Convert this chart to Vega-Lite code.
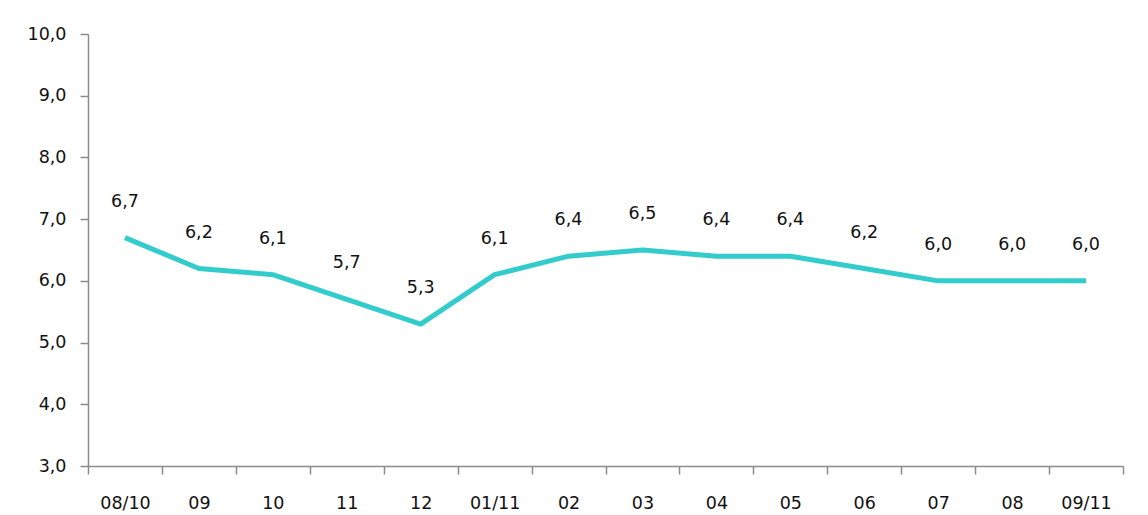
{
  "$schema": "https://vega.github.io/schema/vega-lite/v6.json",
  "width": 1035,
  "height": 432,
  "autosize": {"type": "none"},
  "padding": {"left": 88, "top": 34, "right": 25, "bottom": 49},
  "background": "white",
  "config": {
    "view": {"stroke": null},
    "font": "DejaVu Sans",
    "locale": {"number": {"decimal": ",", "thousands": ".", "grouping": [3], "currency": ["", " €"]}}
  },
  "data": {
    "values": [
      {"month": "08/10", "value": 6.7},
      {"month": "09", "value": 6.2},
      {"month": "10", "value": 6.1},
      {"month": "11", "value": 5.7},
      {"month": "12", "value": 5.3},
      {"month": "01/11", "value": 6.1},
      {"month": "02", "value": 6.4},
      {"month": "03", "value": 6.5},
      {"month": "04", "value": 6.4},
      {"month": "05", "value": 6.4},
      {"month": "06", "value": 6.2},
      {"month": "07", "value": 6.0},
      {"month": "08", "value": 6.0},
      {"month": "09/11", "value": 6.0}
    ]
  },
  "encoding": {
    "x": {
      "field": "month", "type": "ordinal", "sort": null,
      "scale": {"type": "band", "paddingInner": 0, "paddingOuter": 0},
      "axis": {
        "title": null, "labelAngle": 0, "tickBand": "extent",
        "domainColor": "#8c8c8c", "domainWidth": 1.5,
        "tickColor": "#8c8c8c", "tickWidth": 1.5, "tickSize": 8,
        "labelFont": "DejaVu Sans", "labelFontSize": 17.5, "labelColor": "#111111",
        "labelPadding": 20, "labelBaseline": "top", "grid": false
      }
    },
    "y": {
      "field": "value", "type": "quantitative",
      "scale": {"domain": [3, 10], "nice": false, "zero": false},
      "axis": {
        "title": null, "values": [3, 4, 5, 6, 7, 8, 9, 10], "format": ".1f",
        "domainColor": "#8c8c8c", "domainWidth": 1.5,
        "tickColor": "#8c8c8c", "tickWidth": 1.5, "tickSize": 8,
        "labelFont": "DejaVu Sans", "labelFontSize": 17.5, "labelColor": "#111111",
        "labelPadding": 14, "grid": false
      }
    }
  },
  "layer": [
    {"mark": {"type": "line", "color": "#33CCCC", "strokeWidth": 5, "strokeJoin": "round"}},
    {
      "mark": {"type": "text", "dy": -36, "baseline": "middle", "align": "center", "fontSize": 17.5, "font": "DejaVu Sans", "color": "#111111"},
      "encoding": {"text": {"field": "value", "type": "quantitative", "format": ".1f"}}
    }
  ]
}
